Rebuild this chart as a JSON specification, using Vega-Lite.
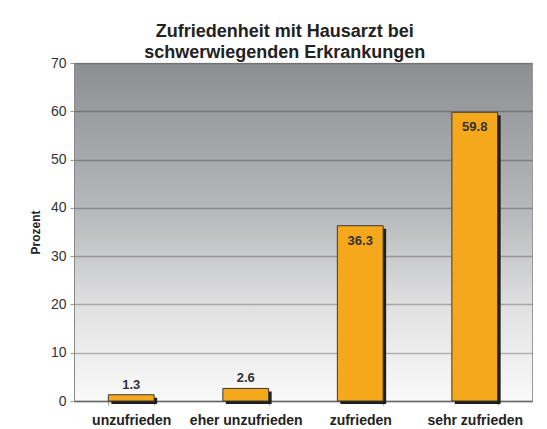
{
  "$schema": "https://vega.github.io/schema/vega-lite/v6.json",
  "width": 458,
  "height": 338,
  "autosize": {"type": "none"},
  "padding": {"left": 74, "top": 63, "right": 15, "bottom": 28},
  "background": "white",
  "title": {
    "text": ["Zufriedenheit mit Hausarzt bei", "schwerwiegenden Erkrankungen"],
    "anchor": "middle",
    "frame": "bounds",
    "font": "Liberation Sans",
    "fontSize": 18,
    "fontWeight": "bold",
    "color": "#222222",
    "lineHeight": 21,
    "offset": 8,
    "dy": 14,
    "dx": 4
  },
  "data": {
    "values": [
      {"kategorie": "unzufrieden", "prozent": 1.3},
      {"kategorie": "eher unzufrieden", "prozent": 2.6},
      {"kategorie": "zufrieden", "prozent": 36.3},
      {"kategorie": "sehr zufrieden", "prozent": 59.8}
    ]
  },
  "encoding": {
    "x": {
      "field": "kategorie",
      "type": "nominal",
      "sort": null,
      "scale": {"paddingInner": 0.6, "paddingOuter": 0.3},
      "axis": {
        "title": null,
        "labelAngle": 0,
        "labelFont": "Liberation Sans",
        "labelFontSize": 14,
        "labelFontWeight": "bold",
        "labelColor": "#222222",
        "labelPadding": 8,
        "tickBand": "extent",
        "tickSize": 4,
        "tickColor": "#999999",
        "domainColor": "#666666",
        "domainWidth": 1.5
      }
    },
    "y": {
      "field": "prozent",
      "type": "quantitative",
      "scale": {"domain": [0, 70], "nice": false},
      "axis": {
        "title": "Prozent",
        "titleFont": "Liberation Sans",
        "titleFontSize": 12,
        "titleFontWeight": "bold",
        "titleColor": "#222222",
        "titlePadding": 8,
        "values": [0, 10, 20, 30, 40, 50, 60, 70],
        "labelFont": "Liberation Sans",
        "labelFontSize": 14,
        "labelColor": "#333333",
        "labelPadding": 4,
        "tickSize": 4,
        "tickColor": "#999999",
        "domainColor": "#888888",
        "grid": true,
        "gridColor": "#000000",
        "gridOpacity": 0.25,
        "gridWidth": 1.5
      }
    }
  },
  "layer": [
    {
      "mark": {"type": "bar", "color": "#1e1e1e", "xOffset": 3, "x2Offset": 3, "yOffset": 3}
    },
    {
      "mark": {"type": "bar", "color": "#f5a81c", "stroke": "#3a3a3a", "strokeWidth": 1}
    },
    {
      "transform": [{"filter": "datum.prozent > 10"}],
      "mark": {"type": "text", "baseline": "top", "dy": 9, "font": "Liberation Sans", "fontSize": 13, "fontWeight": "bold", "color": "#333333"},
      "encoding": {"text": {"field": "prozent", "type": "quantitative", "format": ".1f"}}
    },
    {
      "transform": [{"filter": "datum.prozent <= 10"}],
      "mark": {"type": "text", "baseline": "bottom", "dy": -3, "font": "Liberation Sans", "fontSize": 13, "fontWeight": "bold", "color": "#333333"},
      "encoding": {"text": {"field": "prozent", "type": "quantitative", "format": ".1f"}}
    }
  ],
  "config": {
    "view": {
      "stroke": "#999999",
      "fill": {
        "gradient": "linear",
        "x1": 0, "y1": 0, "x2": 0, "y2": 1,
        "stops": [
          {"offset": 0, "color": "#8d8e92"},
          {"offset": 0.45, "color": "#b9babd"},
          {"offset": 0.75, "color": "#e4e4e5"},
          {"offset": 1, "color": "#f9f9f9"}
        ]
      }
    }
  }
}
